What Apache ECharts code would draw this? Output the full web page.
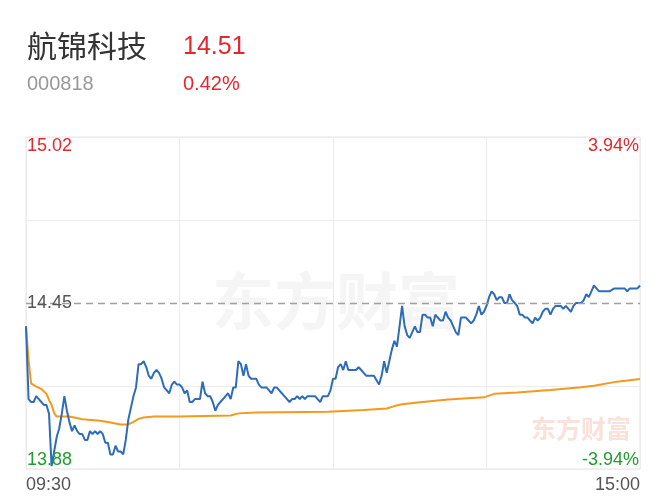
<!DOCTYPE html>
<html><head><meta charset="utf-8">
<script src="https://cdn.jsdelivr.net/npm/echarts@6/dist/echarts.min.js"></script>
<style>html,body{margin:0;padding:0;background:#fff}#c{width:667px;height:500px}</style>
</head><body><div id="c"></div>
<script>
const stockName = '航锦科技';
const stockCode = '000818';
const prevClose = 14.45;
const yRange = [13.88, 15.02];
const xTickMinutes = [0, 240];
const xTickLabels = ['09:30', '15:00'];
const watermarkText = '东方财富';

const priceMinutes = [0,1,2,3,4,5,6,7,8,9,10,11,12,13,14,15,16,17,18,19,20,21,22,23,24,25,26,27,28,29,30,31,32,33,34,35,36,37,38,39,40,41,42,43,44,45,46,47,48,49,50,51,52,53,54,56,57,58,59,60,61,62,63,64,65,66,67,68,69,70,71,72,73,74,75,76,77,78,79,80,81,82,83,84,85,86,87,88,89,90,91,92,93,94,95,96,97,98,99,100,101,103,104,105,106,107,108,109,110,111,112,113,114,115,116,117,118,119,120,121,122,123,124,125,126,127,128,129,130,131,132,133,135,136,138,139,140,141,142,143,144,145,146,147,148,149,150,151,152,153,154,155,156,157,158,159,160,161,162,163,164,165,166,167,168,169,170,171,172,173,174,175,176,177,178,179,180,181,182,183,184,185,186,187,188,189,190,191,192,193,194,195,196,197,198,199,200,201,202,203,204,205,206,207,208,209,210,211,212,213,214,215,216,217,218,219,220,221,222,223,224,226,228,230,231,233,234,235,236,237,239,240];
const prices = [14.37,14.12,14.11,14.11,14.13,14.12,14.11,14.10,14.10,14.07,13.89,13.94,13.99,14.02,14.07,14.13,14.08,14.04,14.01,14.03,14.01,14.00,14.00,13.98,13.98,14.01,14.00,14.01,14.00,14.01,14.00,13.97,13.97,13.93,13.93,13.96,13.94,13.94,13.93,13.98,14.05,14.09,14.13,14.16,14.24,14.24,14.25,14.23,14.20,14.19,14.21,14.22,14.21,14.19,14.16,14.14,14.17,14.18,14.17,14.17,14.16,14.14,14.15,14.11,14.11,14.12,14.12,14.12,14.18,14.14,14.13,14.13,14.11,14.08,14.10,14.11,14.12,14.13,14.14,14.12,14.16,14.16,14.25,14.24,14.20,14.24,14.20,14.19,14.19,14.19,14.17,14.16,14.16,14.16,14.15,14.14,14.16,14.16,14.15,14.14,14.13,14.11,14.12,14.12,14.13,14.12,14.13,14.12,14.13,14.13,14.13,14.13,14.12,14.11,14.13,14.13,14.13,14.15,14.19,14.19,14.23,14.24,14.22,14.25,14.22,14.22,14.22,14.22,14.23,14.22,14.21,14.20,14.20,14.20,14.17,14.20,14.25,14.21,14.25,14.29,14.32,14.30,14.37,14.44,14.37,14.34,14.33,14.35,14.37,14.35,14.35,14.41,14.41,14.40,14.40,14.37,14.41,14.40,14.39,14.39,14.42,14.40,14.39,14.37,14.35,14.34,14.40,14.40,14.40,14.39,14.38,14.39,14.41,14.44,14.41,14.42,14.44,14.47,14.49,14.48,14.46,14.47,14.47,14.45,14.45,14.48,14.46,14.45,14.44,14.41,14.41,14.40,14.40,14.39,14.38,14.40,14.39,14.40,14.42,14.43,14.43,14.41,14.43,14.44,14.44,14.44,14.43,14.44,14.43,14.42,14.44,14.45,14.45,14.45,14.46,14.48,14.47,14.49,14.51,14.50,14.49,14.49,14.49,14.50,14.50,14.50,14.50,14.49,14.50,14.50,14.50,14.51];

const avgMinutes = [0,1,2,4,6,8,9,10,11,12,17,22,29,33,37,40,42,44,46,50,60,80,83,90,118,132,141,144,147,153,158,165,179,183,192,205,217,222,231,240];
const avgPrices = [14.370,14.254,14.174,14.163,14.155,14.138,14.117,14.100,14.072,14.060,14.060,14.051,14.046,14.040,14.033,14.033,14.042,14.052,14.057,14.060,14.060,14.064,14.071,14.074,14.077,14.083,14.088,14.096,14.102,14.108,14.113,14.119,14.126,14.138,14.143,14.151,14.161,14.166,14.180,14.189];

const red = '#e2272e';
const green = '#1f9e2e';
const font = '"Liberation Sans", Arial, sans-serif';
const cjk = '"Noto Sans CJK SC", sans-serif';

const half = +(yRange[1] - prevClose).toFixed(2);
const pct = half / prevClose * 100;
const last = prices[prices.length - 1];
const chg = (last - prevClose) / prevClose * 100;

const chart = echarts.init(document.getElementById('c'), null, {renderer: 'canvas'});
const option = {
  animation: false,
  backgroundColor: '#fff',
  title: [
    {text: stockName, left: 27, top: 31, padding: 0, textStyle: {fontSize: 30, fontWeight: 'normal', color: '#333', fontFamily: cjk}},
    {text: stockCode, left: 27, top: 74, padding: 0, textStyle: {fontSize: 20, fontWeight: 'normal', color: '#999', fontFamily: font}},
    {text: last.toFixed(2), left: 183, top: 35, padding: 0, textStyle: {fontSize: 25, fontWeight: 'normal', color: red, fontFamily: font}},
    {text: chg.toFixed(2) + '%', left: 183, top: 74, padding: 0, textStyle: {fontSize: 20, fontWeight: 'normal', color: red, fontFamily: font}}
  ],
  graphic: [
    {type: 'text', z: 1, style: {x: 336, y: 301, text: watermarkText, fill: '#f5f5f5', font: 'bold 62px "Noto Sans CJK SC"', textAlign: 'center', textVerticalAlign: 'middle'}},
    {type: 'text', z: 1, style: {x: 581, y: 428, text: watermarkText, fill: '#fae2da', font: 'bold 25px "Noto Sans CJK SC"', textAlign: 'center', textVerticalAlign: 'middle'}}
  ],
  grid: {left: 26, right: 27, top: 137, bottom: 31, show: true, borderColor: '#e4e4e4', borderWidth: 1},
  xAxis: {
    type: 'value', min: 0, max: 240, interval: 60,
    axisLine: {show: false}, axisTick: {show: false},
    splitLine: {show: true, lineStyle: {color: '#ececec'}},
    axisLabel: {
      margin: 7, color: '#555', fontSize: 18, fontFamily: font,
      alignMinLabel: 'left', alignMaxLabel: 'right',
      formatter: v => { const i = xTickMinutes.indexOf(v); return i >= 0 ? xTickLabels[i] : ''; }
    }
  },
  yAxis: [
    {type: 'value', min: yRange[0], max: yRange[1], show: false},
    {type: 'value', min: -half, max: half, interval: half / 2, position: 'left',
      axisLine: {show: false}, axisTick: {show: false}, axisLabel: {show: false},
      splitLine: {show: true, lineStyle: {color: ['#ececec', '#ececec', 'rgba(0,0,0,0)', '#ececec', '#ececec']}}},
    {type: 'value', min: -half, max: half, interval: half, position: 'left', z: 5,
      axisLine: {show: false}, axisTick: {show: false}, splitLine: {show: false},
      axisLabel: {inside: true, margin: 1, fontSize: 18, fontFamily: font,
        verticalAlignMinLabel: 'bottom', verticalAlignMaxLabel: 'top',
        color: v => v > 0.001 ? red : (v < -0.001 ? green : '#555'),
        formatter: v => (prevClose + v).toFixed(2)}},
    {type: 'value', min: -pct, max: pct, interval: pct, position: 'right', z: 5,
      axisLine: {show: false}, axisTick: {show: false}, splitLine: {show: false},
      axisLabel: {inside: true, margin: 1, fontSize: 18, fontFamily: font,
        verticalAlignMinLabel: 'bottom', verticalAlignMaxLabel: 'top',
        color: v => v > 0.001 ? red : (v < -0.001 ? green : '#555'),
        formatter: v => Math.abs(v) < 0.001 ? '' : v.toFixed(2) + '%'}}
  ],
  series: [
    {
      type: 'line', yAxisIndex: 0, showSymbol: false, z: 3,
      data: priceMinutes.map((m, i) => [m, prices[i]]),
      lineStyle: {color: '#2e6cb7', width: 2}, itemStyle: {color: '#2e6cb7'},
      markLine: {silent: true, symbol: 'none', label: {show: false},
        lineStyle: {color: '#a0a0a0', type: [7, 5], width: 1.3},
        data: [{yAxis: prevClose}]}
    },
    {
      type: 'line', yAxisIndex: 0, showSymbol: false, z: 2,
      data: avgMinutes.map((m, i) => [m, avgPrices[i]]),
      lineStyle: {color: '#f39a1e', width: 2}, itemStyle: {color: '#f39a1e'}
    }
  ]
};
chart.setOption(option);
</script></body></html>
